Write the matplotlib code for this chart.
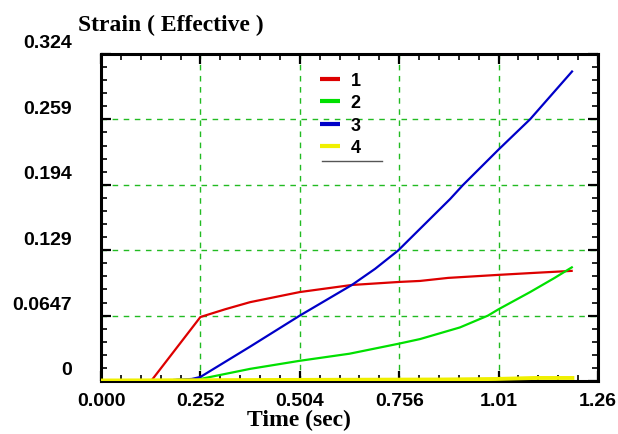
import matplotlib
matplotlib.use("Agg")
import matplotlib.pyplot as plt
import matplotlib.transforms as mtransforms
from matplotlib.lines import Line2D
from matplotlib.ticker import MultipleLocator, FixedLocator

# ---- data ----
x_ticks = [0.000, 0.252, 0.504, 0.756, 1.008, 1.26]
x_tick_labels = ["0.000", "0.252", "0.504", "0.756", "1.01", "1.26"]
y_ticks = [0.0, 0.0647, 0.1294, 0.1941, 0.2588, 0.3235]
y_tick_labels = ["0", "0.0647", "0.129", "0.194", "0.259", "0.324"]

t1 = [0.127, 0.252, 0.315, 0.378, 0.504, 0.636, 0.756, 0.809, 0.88, 1.008, 1.1, 1.196]
s1 = [0.0, 0.0633, 0.071, 0.078, 0.088, 0.095, 0.098, 0.099, 0.102, 0.105, 0.107, 0.109]

t2 = [0.19, 0.252, 0.378, 0.504, 0.63, 0.756, 0.809, 0.91, 0.981, 1.008, 1.088, 1.15, 1.196]
s2 = [0.001, 0.002, 0.012, 0.020, 0.027, 0.037, 0.0415, 0.053, 0.0647, 0.071, 0.088, 0.102, 0.113]

t3 = [0.183, 0.23, 0.252, 0.378, 0.504, 0.636, 0.695, 0.753, 0.885, 0.918, 1.008, 1.088, 1.196]
s3 = [0.001, 0.002, 0.004, 0.034, 0.0647, 0.095, 0.111, 0.129, 0.180, 0.194, 0.229, 0.259, 0.307]

t4 = [0.0, 0.87, 1.0, 1.1, 1.2]
s4 = [0.0005, 0.0015, 0.002, 0.003, 0.003]

labels = ["1", "2", "3", "4"]
colors = ["#dd0000", "#00e000", "#0000c8", "#f0f000"]

# ---- figure ----
W, H = 618, 435
fig = plt.figure(figsize=(W / 100, H / 100), dpi=100)
fig.patch.set_facecolor("white")
ax = fig.add_axes([101 / W, 1 - 382 / H, (598 - 101) / W, (382 - 55) / H])

lw = [1.6, 1.6, 1.6, 2.8]
for (t, s), c, lab, w in zip([(t1, s1), (t2, s2), (t3, s3), (t4, s4)], colors, labels, lw):
    ax.plot(t, s, color=c, lw=w, label=lab, zorder=3, solid_capstyle="butt")

ax.set_xlim(0, 1.26)
ax.set_ylim(0, 0.3235)

ax.xaxis.set_major_locator(FixedLocator(x_ticks))
ax.yaxis.set_major_locator(FixedLocator(y_ticks))
ax.xaxis.set_minor_locator(MultipleLocator(0.252 / 5))
ax.yaxis.set_minor_locator(MultipleLocator(0.0647 / 5))
ax.set_xticklabels(x_tick_labels)
ax.set_yticklabels(y_tick_labels)

for lab in ax.get_xticklabels() + ax.get_yticklabels():
    lab.set_fontfamily("Liberation Sans")
    lab.set_fontweight("bold")
    lab.set_fontsize(14)

ax.tick_params(which="both", direction="in", top=True, right=True, color="black")
ax.tick_params(which="major", length=7, width=1.6)
ax.tick_params(which="minor", length=4, width=1.2)
ax.tick_params(axis="y", which="major", pad=21)
ax.tick_params(axis="x", which="major", pad=8)

offset = mtransforms.ScaledTranslation(0, 13 / 100, fig.dpi_scale_trans)
for lab in ax.get_yticklabels():
    lab.set_transform(lab.get_transform() + offset)

for sp in ax.spines.values():
    sp.set_linewidth(2.2)
    sp.set_color("black")

ax.grid(True, which="major", color="#22bb22", linestyle=(0, (4, 4)), linewidth=1.0, zorder=1)

fig.text(78 / W, 1 - 25 / H, "Strain ( Effective )", family="Liberation Serif",
         weight="bold", size=17, ha="left", va="center")
fig.text(299 / W, 1 - 410 / H, "Time (sec)", family="Liberation Serif",
         weight="bold", size=17, ha="center", va="top")

leg = ax.legend(loc="upper left", bbox_to_anchor=(320 / W, 1 - 73 / H),
                bbox_transform=fig.transFigure, frameon=False,
                prop=dict(family="Liberation Sans", weight="bold", size=13),
                handlelength=1.1, handletextpad=0.6, labelspacing=0.3,
                borderpad=0, borderaxespad=0)
for h in leg.get_lines():
    h.set_linewidth(3)
fig.add_artist(Line2D([322 / W, 382 / W], [1 - 162 / H, 1 - 162 / H],
                      transform=fig.transFigure, color="#555555", lw=1.0))

fig.savefig("out.png", dpi=100)
